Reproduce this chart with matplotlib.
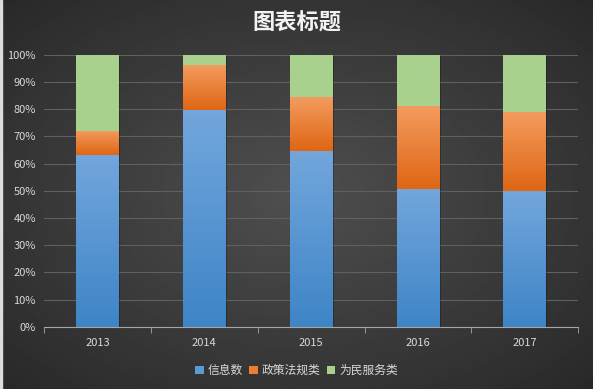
import numpy as np
import matplotlib
matplotlib.use("Agg")
import matplotlib.pyplot as plt
from matplotlib.patches import Patch
from matplotlib.ticker import PercentFormatter

plt.rcParams['font.family'] = ['Noto Sans CJK SC', 'DejaVu Sans']

years = ["2013", "2014", "2015", "2016", "2017"]
xinxi = [63.1, 79.7, 64.6, 50.6, 49.9]
zhengce = [9.0, 16.5, 19.8, 30.5, 29.0]
weimin = [27.9, 3.8, 15.6, 18.9, 21.1]
series_names = ["信息数", "政策法规类", "为民服务类"]

# top / bottom colours for the bar gradients
grad = [("#72a6dc", "#3e85c7"), ("#f39b5e", "#df6614"), ("#a9d18e", "#a9d18e")]
flat = ["#5b9bd5", "#ed7d31", "#a9d18e"]

fig = plt.figure(figsize=(5.93, 3.89), dpi=100)

# radial dark background
bg = fig.add_axes([0, 0, 1, 1])
yy, xx = np.mgrid[-1:1:300j, -1:1:450j]
r = np.sqrt(xx ** 2 + yy ** 2) / np.sqrt(2)
bg.imshow(0.31 - 0.15 * r, cmap="gray", vmin=0, vmax=1, aspect="auto",
          extent=[0, 1, 0, 1], interpolation="bilinear")
bg.axvspan(0, 0.004, color="#dcdcdc")
bg.set_xlim(0, 1)
bg.set_ylim(0, 1)
bg.axis("off")

ax = fig.add_axes([0.0746, 0.160, 0.9004, 0.699])
ax.patch.set_alpha(0)

x = np.arange(len(years))
bottom = np.zeros(len(years))
for vals, (top_c, bot_c), fc in zip([xinxi, zhengce, weimin], grad, flat):
    bars = ax.bar(x, vals, width=0.4, bottom=bottom, color=fc, zorder=3)
    cmap = matplotlib.colors.LinearSegmentedColormap.from_list("g", [bot_c, top_c])
    for b in bars:
        x0, y0 = b.get_x(), b.get_y()
        w, h = b.get_width(), b.get_height()
        # soft shadow
        ax.bar(x0 + w / 2 + 0.012, h, width=w, bottom=y0 - 0.4, color="black",
               alpha=0.25, zorder=2)
        im = ax.imshow(np.linspace(0, 1, 64).reshape(-1, 1), cmap=cmap,
                       origin="lower", aspect="auto",
                       extent=[x0, x0 + w, y0, y0 + h], zorder=4)
        im.set_clip_path(b)
    bottom += np.array(vals)

ax.set_xlim(-0.5, len(years) - 0.5)
ax.set_ylim(0, 100)
ax.set_yticks(np.arange(0, 101, 10))
ax.yaxis.set_major_formatter(PercentFormatter(decimals=0))
ax.set_xticks(x)
ax.set_xticklabels(years)
ax.set_xticks(np.arange(-0.5, len(years), 1), minor=True)
ax.tick_params(axis="x", which="major", length=0, pad=8, labelsize=8, colors="#d9d9d9")
ax.tick_params(axis="x", which="minor", length=4, color="#a6a6a6", direction="out")
ax.tick_params(axis="y", length=0, pad=6, labelsize=8, colors="#d9d9d9")
ax.grid(axis="y", color="#606060", linewidth=0.8, zorder=0)
for s in ["top", "right", "left"]:
    ax.spines[s].set_visible(False)
ax.spines["bottom"].set_color("#a6a6a6")
ax.spines["bottom"].set_zorder(5)

fig.text(0.5, 0.941, "图表标题", ha="center", va="center", fontsize=16,
         fontweight="bold", color="#f2f2f2")

handles = [Patch(facecolor=c, edgecolor="none") for c in flat]
fig.legend(handles, series_names, loc="center", bbox_to_anchor=(0.5, 0.047),
           ncol=3, frameon=False, fontsize=8.5, labelcolor="#d9d9d9",
           handlelength=0.7, handleheight=0.7, handletextpad=0.3, columnspacing=0.6)

fig.savefig("out.png", dpi=100)
